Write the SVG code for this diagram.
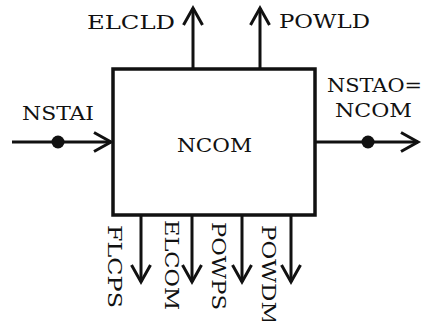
<svg xmlns="http://www.w3.org/2000/svg" width="424" height="321" viewBox="0 0 424 321">
<style>
text{font-family:"DejaVu Serif","Liberation Serif",serif;font-size:18px;fill:#111}
.ln{stroke:#111;stroke-width:3;fill:none}
.box{stroke:#111;stroke-width:3.5;fill:#fff}
</style>
<defs>
<marker id="ah" markerUnits="userSpaceOnUse" markerWidth="24" markerHeight="24" viewBox="-20 -12 24 24" refX="0" refY="0" orient="auto" overflow="visible">
<path d="M-17,-9.5 L0,0 L-17,9.5" stroke="#111" stroke-width="3" fill="none" stroke-linejoin="miter"/>
</marker>
</defs>
<rect width="424" height="321" fill="#fff"/>
<g id="ncom">
<rect class="box" x="113" y="69" width="202" height="146"/>
<text x="214.5" y="152" text-anchor="middle" textLength="75" lengthAdjust="spacingAndGlyphs">NCOM</text>
</g>
<g id="connectors">
<line class="ln" x1="12" y1="142" x2="111" y2="142" marker-end="url(#ah)"/>
<circle cx="58" cy="142" r="6.5" fill="#111"/>
<line class="ln" x1="315" y1="142" x2="418" y2="142" marker-end="url(#ah)"/>
<circle cx="368" cy="142" r="6.5" fill="#111"/>
<line class="ln" x1="193" y1="69" x2="193" y2="8" marker-end="url(#ah)"/>
<line class="ln" x1="260" y1="69" x2="260" y2="8" marker-end="url(#ah)"/>
<line class="ln" x1="141" y1="215" x2="141" y2="282" marker-end="url(#ah)"/>
<line class="ln" x1="192" y1="215" x2="192" y2="282" marker-end="url(#ah)"/>
<line class="ln" x1="242" y1="215" x2="242" y2="282" marker-end="url(#ah)"/>
<line class="ln" x1="291" y1="215" x2="291" y2="282" marker-end="url(#ah)"/>
</g>
<g id="labels">
<text x="22" y="120" textLength="72" lengthAdjust="spacingAndGlyphs">NSTAI</text>
<text x="87" y="29" textLength="88" lengthAdjust="spacingAndGlyphs">ELCLD</text>
<text x="279" y="28" textLength="91" lengthAdjust="spacingAndGlyphs">POWLD</text>
<text x="327" y="92" textLength="95" lengthAdjust="spacingAndGlyphs">NSTAO=</text>
<text x="335" y="117" textLength="77" lengthAdjust="spacingAndGlyphs">NCOM</text>
<text transform="translate(108,225) rotate(90)" textLength="83" lengthAdjust="spacingAndGlyphs">FLCPS</text>
<text transform="translate(165,220) rotate(90)" textLength="90" lengthAdjust="spacingAndGlyphs">ELCOM</text>
<text transform="translate(212,222) rotate(90)" textLength="88" lengthAdjust="spacingAndGlyphs">POWPS</text>
<text transform="translate(262,225) rotate(90)" textLength="100" lengthAdjust="spacingAndGlyphs">POWDM</text>
</g>
</svg>
